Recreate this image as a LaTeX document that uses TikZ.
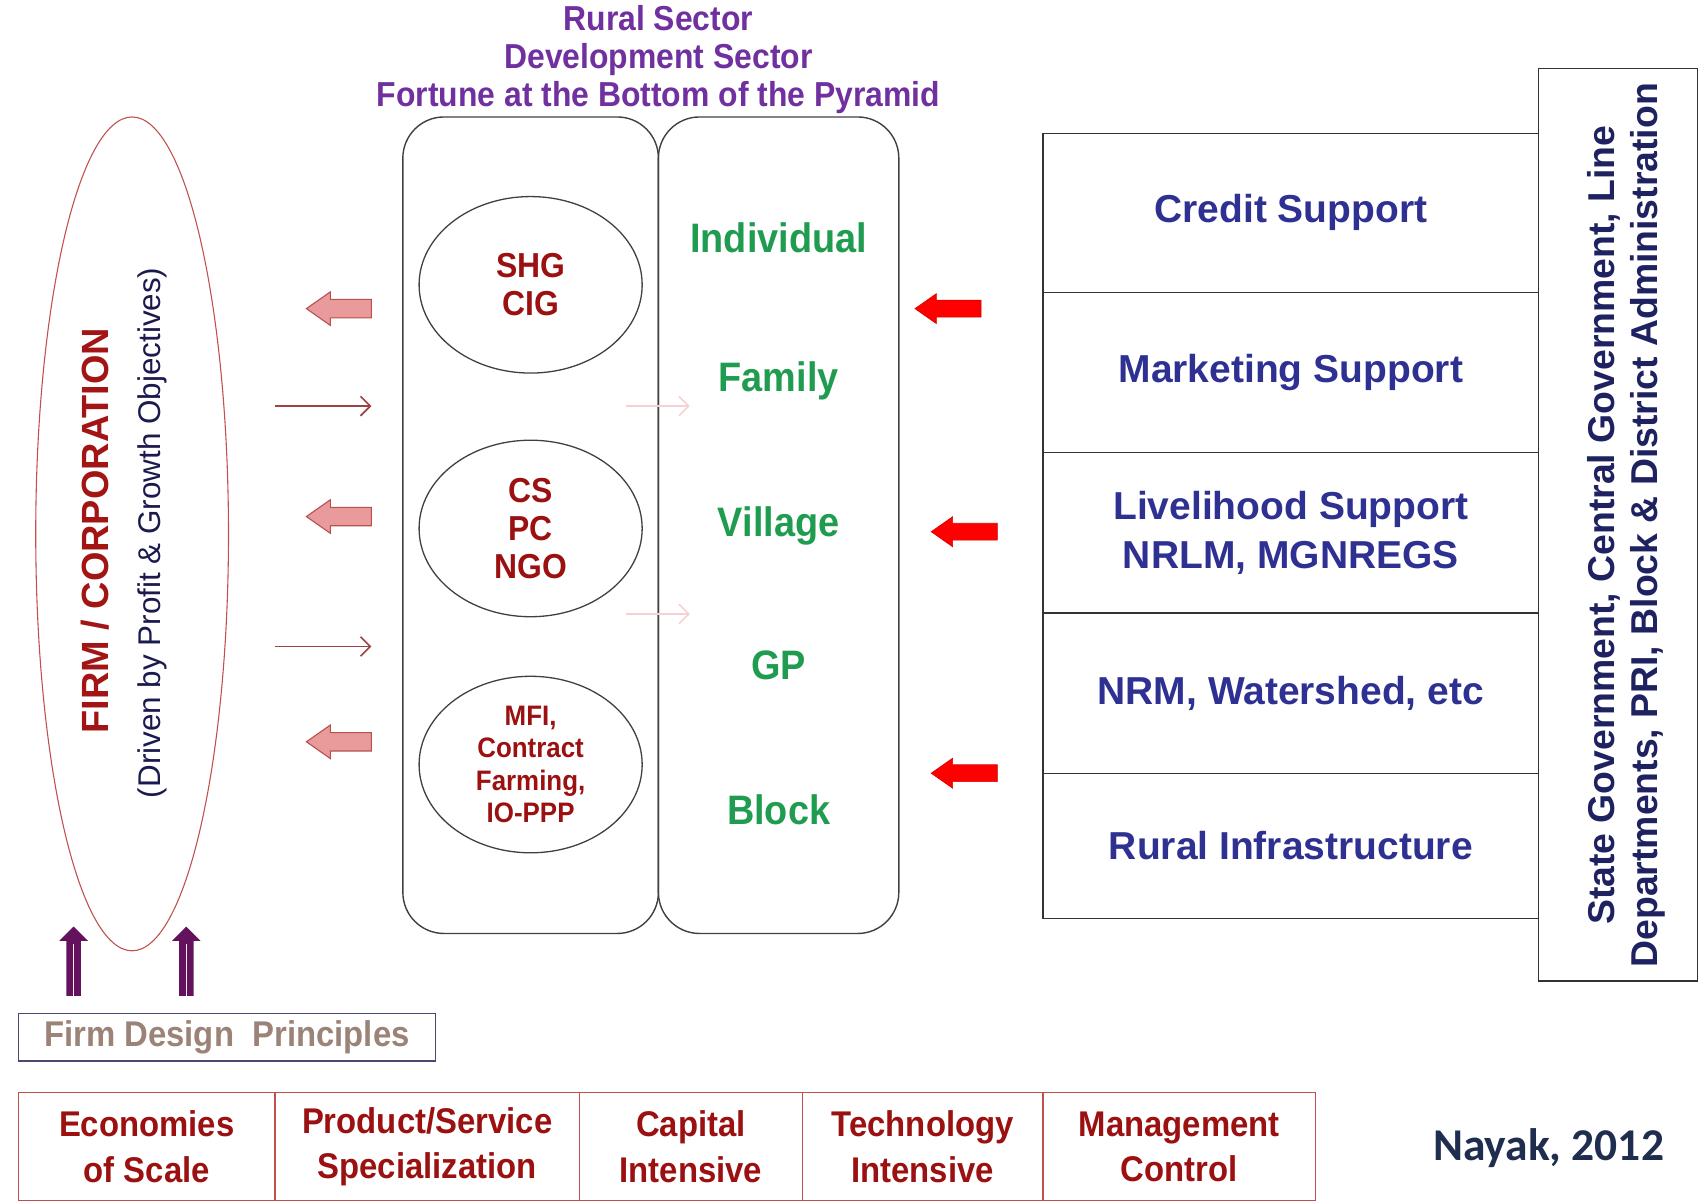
\documentclass[tikz,border=0pt]{standalone}
\usepackage{fontspec}
\setmainfont{Liberation Sans}
\newfontfamily\narrowfont[FakeStretch=0.92]{Liberation Sans}
\newfontfamily\nayakfont{Carlito}
\usetikzlibrary{shapes.geometric,shapes.arrows,arrows.meta}
\definecolor{titlepurple}{HTML}{7030A0}
\definecolor{orgred}{HTML}{9B1010}
\definecolor{levgreen}{HTML}{1F9C4F}
\definecolor{supblue}{HTML}{2E3192}
\definecolor{firmred}{HTML}{A31515}
\definecolor{drivenavy}{HTML}{1A1A4E}
\definecolor{ellred}{HTML}{C0504D}
\definecolor{pinkfill}{HTML}{E99A9A}
\definecolor{pinkdraw}{HTML}{B5514F}
\definecolor{upviolet}{HTML}{64125E}
\definecolor{govnavy}{HTML}{1F2260}
\definecolor{nayakblue}{HTML}{1F2D4E}
\definecolor{designgrey}{HTML}{9B8378}
\begin{document}
\begin{tikzpicture}[x=1pt,y=-1pt,
  col/.style={draw=black!75,line width=1.3,rounded corners=38,minimum height=754,inner sep=0},
  orgcirc/.style={draw=black!75,line width=1.2,ellipse,minimum width=206,minimum height=163,inner sep=0,
    align=center,text=orgred,font=\narrowfont\bfseries\fontsize{32}{35}\selectfont},
  level/.style={text=levgreen,font=\narrowfont\bfseries\fontsize{38}{42}\selectfont},
  support/.style={draw=black!80,line width=1.2,minimum width=458,align=center,text=supblue,
    font=\bfseries\fontsize{36}{45}\selectfont},
  principle/.style={draw=ellred,line width=1.2,minimum height=100,align=center,text=orgred,
    font=\narrowfont\bfseries\fontsize{33}{42}\selectfont},
  pinkarrow/.style={single arrow,shape border rotate=180,fill=pinkfill,draw=pinkdraw,line width=1,
    minimum height=60,inner xsep=0,inner ysep=8,single arrow head extend=7,single arrow tip angle=70},
  redarrow/.style={single arrow,shape border rotate=180,fill=red,draw=red!85!black,line width=0.6,
    minimum height=61,inner xsep=0,inner ysep=7.5,single arrow head extend=6,single arrow tip angle=70},
  uparrow/.style={single arrow,shape border rotate=90,fill=upviolet,minimum height=64,
    inner sep=6.5,single arrow head extend=6.5},
  thin/.style={line width=1.5,-{Straight Barb[length=9,width=18]}}]
\useasboundingbox (0,0) rectangle (1568,1109);

% title
\node[align=center,text=titlepurple,font=\narrowfont\bfseries\fontsize{32}{35.5}\selectfont] (title) at (608,55)
  {Rural Sector\\Development Sector\\Fortune at the Bottom of the Pyramid};

% firm
\node[draw=ellred,line width=1,ellipse,minimum width=178,minimum height=770,inner sep=0] (firm) at (122,493) {};
\node[rotate=90,text=firmred,font=\bfseries\fontsize{35}{40}\selectfont] (firmtxt) at (88,490) {FIRM / CORPORATION};
\node[rotate=90,text=drivenavy,font=\fontsize{29}{34}\selectfont] (driven) at (141,492) {(Driven by Profit \& Growth Objectives)};
\foreach \x [count=\i] in {68,172}
{\node[uparrow] (up\i) at (\x,891) {};
 \draw[white!70!pink,line width=1.2] (\x,921) -- (\x,872);
}

% columns
\node[col,minimum width=236] (orgcol) at (490,485) {};
\node[col,minimum width=222] (levcol) at (719,485) {};
\node[orgcirc] (o1) at (490,263) {SHG\\CIG};
\node[orgcirc] (o2) at (490,488) {CS\\PC\\NGO};
\node[orgcirc,font=\narrowfont\bfseries\fontsize{26}{30}\selectfont] (o3) at (490,706) {MFI,\\Contract\\Farming,\\IO-PPP};
\foreach \y/\txt [count=\i] in {220/Individual,352/Family,486/Village,614/GP,748/Block}
  \node[level] (l\i) at (719,\y) {\txt};

% arrows between
\foreach \y [count=\i] in {285,477,685}
  \node[pinkarrow] (pk\i) at (319,\y) {};
\foreach \x/\y [count=\i] in {881/285,896/491,896/714}
  \node[redarrow] (rd\i) at (\x,\y) {};
\foreach \y [count=\i] in {375,597}
{\coordinate (fa\i) at (254,\y); \coordinate (fb\i) at (343,\y);
 \draw[thin,draw=pinkdraw!85!black] (fa\i) -- (fb\i);
}
\foreach \y [count=\i] in {375,567}
{\coordinate (ca\i) at (578,\y); \coordinate (cb\i) at (637,\y);
 \draw[thin,draw=pinkfill!45] (ca\i) -- (cb\i);
}

% support
\foreach \y/\h/\txt [count=\i] in {196.5/147/{Credit Support},344/148/{Marketing Support},
  492/148/{Livelihood Support\\NRLM, MGNREGS},640/148/{NRM, Watershed, etc},781/134/{Rural Infrastructure}}
  \node[support,minimum height=\h] (s\i) at (1192,\y) {\txt};
\node[draw=black!80,line width=1.2,minimum width=147,minimum height=843,inner sep=0] (govt) at (1494.5,484.5) {};
\node[rotate=90,align=center,text=govnavy,font=\bfseries\fontsize{34.5}{40}\selectfont] (govtxt) at (1502,485)
  {State Government, Central Government, Line\\Departments, PRI, Block \& District Administration};

% principles
\node[draw=drivenavy!80,line width=1.5,minimum width=385,minimum height=44,text=designgrey,
  font=\narrowfont\bfseries\fontsize{33}{38}\selectfont] (design) at (209.5,958) {Firm Design\ \ Principles};
\foreach \x/\w/\txt [count=\i] in {135.5/237/{Economies\\of Scale},394.5/281/{Product/Service\\Specialization},
  638/206/{Capital\\Intensive},852/222/{Technology\\Intensive},1089/252/{Management\\Control}}
  \node[principle,minimum width=\w] (p\i) at (\x,1059) {\txt};
\node[text=nayakblue,font=\nayakfont\bfseries\fontsize{42}{46}\selectfont] (nayak) at (1430,1060) {Nayak, 2012};
\end{tikzpicture}
\end{document}
